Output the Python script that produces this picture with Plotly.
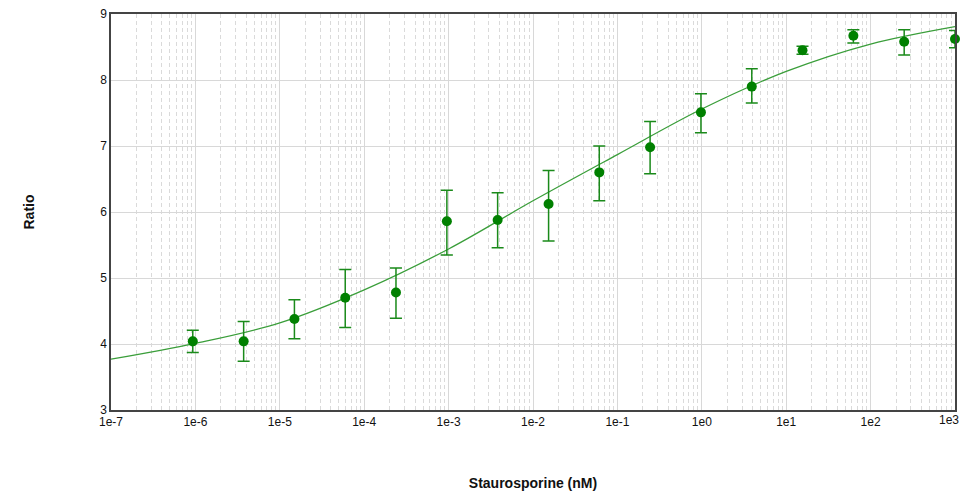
import plotly.graph_objects as go

# Concentration (nM) - 1:4 dilution series
conc = [9.31e-7, 3.73e-6, 1.49e-5, 5.96e-5, 2.38e-4, 9.54e-4, 3.81e-3, 1.53e-2,
        6.10e-2, 0.244, 0.977, 3.91, 15.6, 62.5, 250, 1000]
ratio = [4.04, 4.04, 4.38, 4.70, 4.78, 5.86, 5.88, 6.12,
         6.60, 6.98, 7.51, 7.90, 8.45, 8.67, 8.58, 8.62]
err_plus = [0.17, 0.30, 0.29, 0.43, 0.37, 0.47, 0.41, 0.51,
            0.40, 0.39, 0.28, 0.27, 0.06, 0.09, 0.18, 0.13]
err_minus = [0.17, 0.30, 0.30, 0.45, 0.39, 0.51, 0.42, 0.56,
             0.43, 0.40, 0.31, 0.25, 0.06, 0.11, 0.20, 0.13]

# Fitted curve
fit_x = [1e-7, 1e-6, 1e-5, 1e-4, 1e-3, 1e-2, 1e-1, 1e0, 1e1, 1e2, 1e3]
fit_y = [3.77, 4.01, 4.32, 4.82, 5.44, 6.17, 6.87, 7.56, 8.13, 8.545, 8.81]

tick_vals = [1e-7, 1e-6, 1e-5, 1e-4, 1e-3, 1e-2, 1e-1, 1e0, 1e1, 1e2]
tick_text = ["1e-7", "1e-6", "1e-5", "1e-4", "1e-3", "1e-2", "1e-1", "1e0", "1e1", "1e2"]
last_tick_val = 1e3
last_tick_text = "1e3"

fig = go.Figure()
fig.add_trace(go.Scatter(
    x=fit_x, y=fit_y, mode="lines", line=dict(color="#3a9e3a", width=1.3, shape="spline"),
    showlegend=False, hoverinfo="skip"))
fig.add_trace(go.Scatter(
    x=conc, y=ratio, mode="markers",
    marker=dict(color="#008000", size=10),
    error_y=dict(type="data", array=err_plus, arrayminus=err_minus, symmetric=False,
                 color="#1a8a1a", thickness=1.5, width=6),
    showlegend=False, cliponaxis=False))

# last tick label kept inside the page (as in the original)
fig.add_annotation(x=3, xref="x", y=0, yref="paper", text=last_tick_text,
                   showarrow=False, xanchor="right", yanchor="top", xshift=6, yshift=-1,
                   font=dict(size=12, color="#111"))

fig.update_layout(
    width=963, height=493,
    margin=dict(l=111, r=8, t=14, b=83, autoexpand=False),
    paper_bgcolor="white", plot_bgcolor="white",
    font=dict(family="Liberation Sans, Arial, sans-serif", size=12, color="#111"),
    xaxis=dict(
        type="log", range=[-7, 3], tickvals=tick_vals, ticktext=tick_text,
        ticklabeloverflow="allow", automargin=False,
        showgrid=True, gridcolor="#d8d8d8", gridwidth=1,
        showline=True, linecolor="#444", linewidth=1.5, mirror=True,
        ticks="", zeroline=False,
        minor=dict(dtick="D1", showgrid=True, gridcolor="#dadada", griddash="4px,3px", ticks=""),
        title=dict(text="<b>Staurosporine (nM)</b>", font=dict(size=14), standoff=50),
    ),
    yaxis=dict(
        range=[3, 9], dtick=1, showgrid=True, gridcolor="#d8d8d8", gridwidth=1,
        showline=True, linecolor="#444", linewidth=1.5, mirror=True,
        ticks="", zeroline=False, automargin=False,
        title=dict(text="<b>Ratio</b>", font=dict(size=14), standoff=62),
    ),
)

fig.write_html("out.html", config={"displayModeBar": False},
               post_script="document.body.style.margin='0';document.body.style.overflow='hidden';")
